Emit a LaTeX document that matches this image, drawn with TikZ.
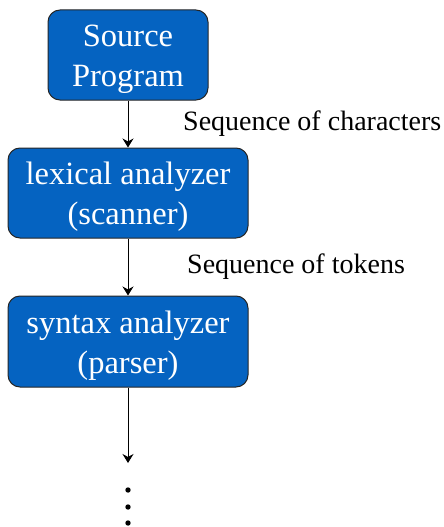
\documentclass[tikz,border=0pt]{standalone}
\usepackage{fontspec}
\setmainfont{Liberation Serif}
\usetikzlibrary{arrows.meta}
\definecolor{boxblue}{RGB}{5,99,193}
\begin{document}
\begin{tikzpicture}[x=1pt,y=-1pt,
  stagebox/.style={draw=black!85,line width=1pt,fill=boxblue,rounded corners=12pt,inner sep=0pt},
  boxtext/.style={text=white,align=center,inner sep=0pt,
    font=\fontsize{32.5}{40}\selectfont},
  lbl/.style={anchor=base west,inner sep=0pt,font=\fontsize{28}{32}\selectfont},
  conn/.style={line width=1pt,-{Stealth[length=9pt,width=11pt]}}]
\useasboundingbox (0,0) rectangle (444,527);
\node[stagebox,minimum width=160pt,minimum height=90pt] (src) at (128,55) {};
\node[stagebox,minimum width=240pt,minimum height=90pt] (lex) at (128,193) {};
\node[stagebox,minimum width=240pt,minimum height=91pt] (syn) at (128,341.5) {};
\node[boxtext] (srct) at ([yshift=-4pt]src.center) {Source\\Program};
\node[boxtext] (lext) at ([yshift=-4pt]lex.center) {lexical analyzer\\(scanner)};
\node[boxtext] (synt) at ([yshift=-4pt]syn.center) {syntax analyzer\\(parser)};
\coordinate (end) at (128,463);
\draw[conn] (src) -- (lex);
\draw[conn] (lex) -- (syn);
\draw[conn] (syn) -- (end);
\node[lbl] (l1) at (183,130) {Sequence of characters};
\node[lbl] (l2) at (187,273) {Sequence of tokens};
\fill (128,490) circle (2.7pt) coordinate (d1);
\fill (128,507) circle (2.7pt) coordinate (d2);
\fill (128,523) circle (2.7pt) coordinate (d3);
\end{tikzpicture}
\end{document}
